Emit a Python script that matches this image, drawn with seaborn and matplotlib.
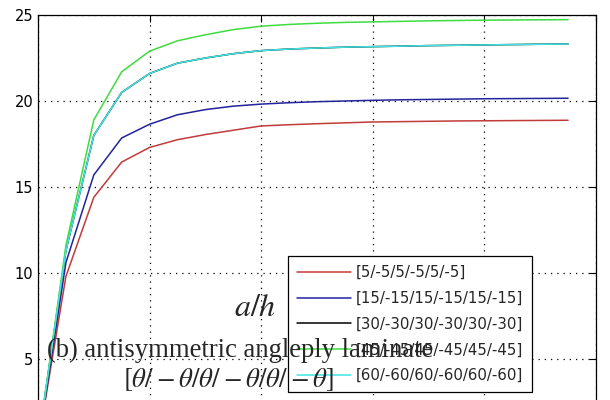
import numpy as np
import pandas as pd
import seaborn as sns
import matplotlib.pyplot as plt
from matplotlib.lines import Line2D

# a/h values and the curve for each layup
a_h = [1, 5, 10, 15, 20, 25, 30, 35, 40, 45, 50, 55, 60, 65, 70, 75, 80, 85, 90, 95]
lam_5 = [2.0, 9.8, 14.4, 16.45, 17.3, 17.75, 18.05, 18.3, 18.55, 18.62, 18.68, 18.73,
         18.78, 18.8, 18.82, 18.84, 18.85, 18.86, 18.87, 18.88]
lam_15 = [2.1, 10.6, 15.7, 17.85, 18.65, 19.2, 19.5, 19.7, 19.82, 19.9, 19.96, 20.0,
          20.04, 20.07, 20.09, 20.11, 20.13, 20.14, 20.15, 20.16]
lam_30 = [2.3, 11.3, 18.0, 20.5, 21.6, 22.2, 22.5, 22.75, 22.93, 23.02, 23.08, 23.13,
          23.16, 23.19, 23.22, 23.24, 23.26, 23.28, 23.3, 23.31]
lam_45 = [2.3, 11.6, 18.9, 21.7, 22.9, 23.5, 23.85, 24.15, 24.35, 24.45, 24.52, 24.57,
          24.6, 24.63, 24.66, 24.68, 24.7, 24.71, 24.72, 24.73]
lam_60 = [2.3, 11.3, 18.0, 20.5, 21.6, 22.2, 22.5, 22.75, 22.93, 23.02, 23.08, 23.13,
          23.16, 23.19, 23.22, 23.24, 23.26, 23.28, 23.3, 23.31]

labels = ["[5/-5/5/-5/5/-5]", "[15/-15/15/-15/15/-15]", "[30/-30/30/-30/30/-30]",
          "[45/-45/45/-45/45/-45]", "[60/-60/60/-60/60/-60]"]
colors = ["#c23b3b", "#23239c", "#000000", "#3fdc3f", "#3fe4e4"]
y_ticks = [5, 10, 15, 20, 25]
x_ticks = [0, 20, 40, 60, 80, 100]

series = [lam_5, lam_15, lam_30, lam_45, lam_60]
df = pd.concat([pd.DataFrame({"a_h": a_h, "value": s, "layup": lab})
                for s, lab in zip(series, labels)], ignore_index=True)

sns.set_style("white")
plt.rcParams["font.family"] = ["DejaVu Sans"]
plt.rcParams["mathtext.fontset"] = "stix"

fig = plt.figure(figsize=(6.1, 4), dpi=100)
# axes runs below the bottom edge of the picture (the reference is a crop)
ax = fig.add_axes([38 / 610, -45 / 400, 558 / 610, 430 / 400])

sns.lineplot(data=df, x="a_h", y="value", hue="layup", hue_order=labels,
             palette=colors, sort=False, linewidth=1.1, legend=False, ax=ax)

ax.set_xlim(0, 100)
ax.set_ylim(0, 25)
ax.set_xticks(x_ticks)
ax.set_yticks(y_ticks)
ax.set_xlabel("")
ax.set_ylabel("")
ax.grid(True, color="black", linestyle=(0, (1, 4)), linewidth=0.9)
ax.tick_params(direction="in", top=True, right=True, length=5, width=0.8,
               labelsize=10.5, colors="black", labelbottom=False)
for sp in ax.spines.values():
    sp.set_color("black")
    sp.set_linewidth(0.9)

handles = [Line2D([0], [0], color=c, linewidth=1.1) for c in colors]
leg = ax.legend(handles, labels, loc="upper left", bbox_to_anchor=(288 / 610, 1 - 256 / 400),
                bbox_transform=fig.transFigure, fontsize=10.8, frameon=True, fancybox=False,
                edgecolor="black", framealpha=1, handlelength=3.6, handletextpad=0.3,
                labelspacing=0.72, borderpad=0.6, borderaxespad=0)
leg.get_frame().set_linewidth(0.9)
leg.set_zorder(5)

# caption text overlaid on the plot
fig.text(255 / 610, 1 - 307 / 400, r"$a/h$", fontsize=23, ha="center", va="center", zorder=10)
fig.text(47 / 610, 1 - 357 / 400, "(b) antisymmetric angleply laminate",
         family="Liberation Serif", fontsize=19.2, ha="left", va="baseline", zorder=10)
fig.text(228 / 610, 1 - 380 / 400, r"$[\theta/-\theta/\theta/-\theta/\theta/-\theta]$",
         fontsize=19.4, ha="center", va="center", zorder=10)

fig.savefig("out.png", dpi=100)
